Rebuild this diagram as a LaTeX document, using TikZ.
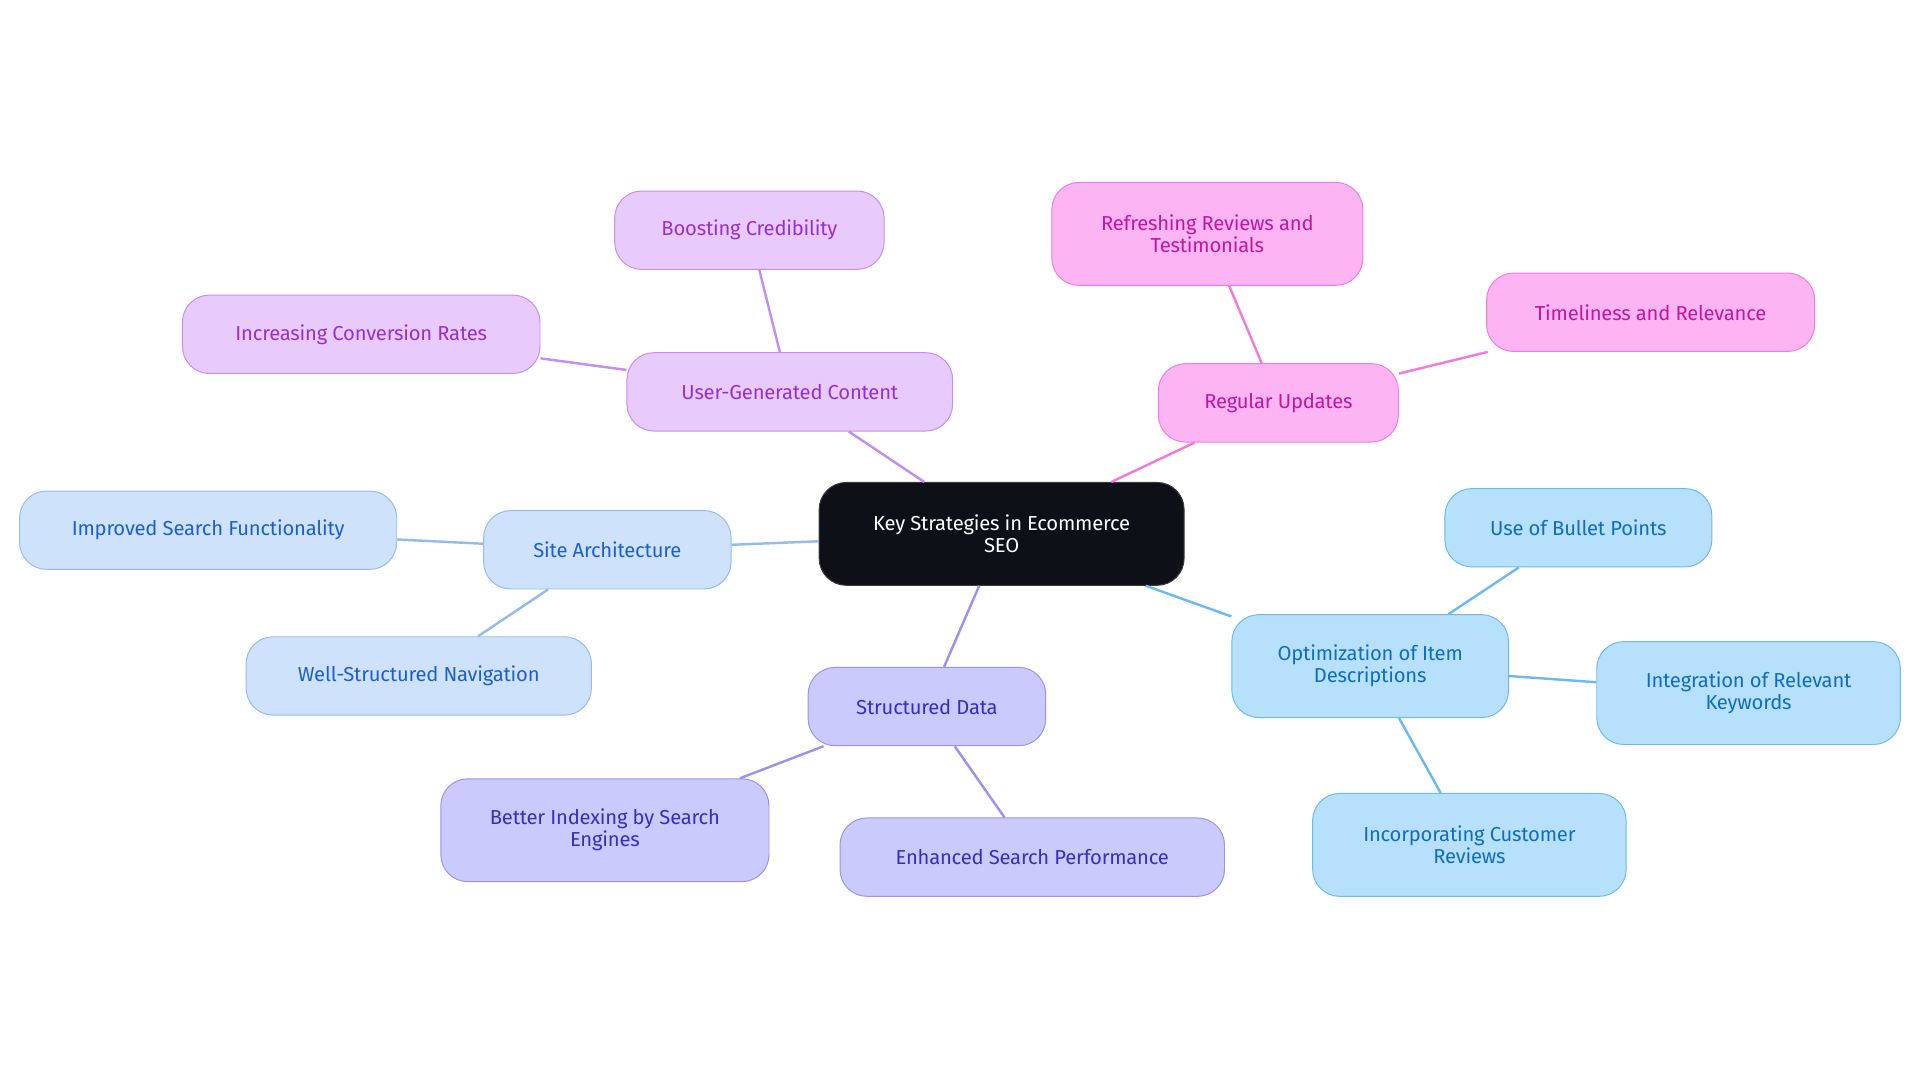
\documentclass[tikz,border=0pt]{standalone}
\usepackage{fontspec}
\setmainfont{Fira Sans}
\begin{document}
\begin{tikzpicture}[x=1pt,y=-1pt,
 box/.style={rounded corners=22pt,minimum height=64pt,align=center,font=\fontsize{16.5}{18}\selectfont\addfontfeature{LetterSpace=-1}, line width=0.8pt, inner sep=2pt},
 ugc/.style={box,fill={rgb,255:red,232;green,202;blue,252},draw={rgb,255:red,198;green,142;blue,240},text={rgb,255:red,150;green,48;blue,210}},
 reg/.style={box,fill={rgb,255:red,253;green,180;blue,243},draw={rgb,255:red,242;green,124;blue,222},text={rgb,255:red,196;green,22;blue,160}},
 site/.style={box,fill={rgb,255:red,206;green,226;blue,251},draw={rgb,255:red,148;green,188;blue,240},text={rgb,255:red,28;green,96;blue,208}},
 sd/.style={box,fill={rgb,255:red,202;green,202;blue,252},draw={rgb,255:red,156;green,146;blue,240},text={rgb,255:red,58;green,46;blue,190}},
 opt/.style={box,fill={rgb,255:red,182;green,224;blue,252},draw={rgb,255:red,108;green,186;blue,240},text={rgb,255:red,16;green,110;blue,192}},
 le/.style={line width=2pt}]
\useasboundingbox (0,0) rectangle (1568,884);
\node[box,fill={rgb,255:red,13;green,17;blue,23},draw={rgb,255:red,60;green,60;blue,60},text=white,minimum width=298pt,minimum height=84pt] (c) at (818,436) {Key Strategies in Ecommerce\\SEO};
\node[ugc,minimum width=266pt] (u) at (645,320) {User-Generated Content};
\node[ugc,minimum width=220pt] (u1) at (612,188) {Boosting Credibility};
\node[ugc,minimum width=292pt] (u2) at (295,273) {Increasing Conversion Rates};
\node[reg,minimum width=196pt] (r) at (1044,329) {Regular Updates};
\node[reg,minimum width=254pt,minimum height=84pt] (r1) at (986,191) {Refreshing Reviews and\\Testimonials};
\node[reg,minimum width=268pt] (r2) at (1348,255) {Timeliness and Relevance};
\node[site,minimum width=202pt] (s) at (496,449) {Site Architecture};
\node[site,minimum width=308pt] (s1) at (170,433) {Improved Search Functionality};
\node[site,minimum width=282pt] (s2) at (342,552) {Well-Structured Navigation};
\node[sd,minimum width=194pt] (d) at (757,577) {Structured Data};
\node[sd,minimum width=268pt,minimum height=84pt] (d1) at (494,678) {Better Indexing by Search\\Engines};
\node[sd,minimum width=314pt] (d2) at (843,700) {Enhanced Search Performance};
\node[opt,minimum width=226pt,minimum height=84pt] (o) at (1119,544) {Optimization of Item\\Descriptions};
\node[opt,minimum width=218pt] (o1) at (1289,431) {Use of Bullet Points};
\node[opt,minimum width=248pt,minimum height=84pt] (o2) at (1428,566) {Integration of Relevant\\Keywords};
\node[opt,minimum width=256pt,minimum height=84pt] (o3) at (1200,690) {Incorporating Customer\\Reviews};
\begin{scope}[on background layer/.style={}]
\end{scope}
\draw[le,draw={rgb,255:red,198;green,142;blue,240}] (c) -- (u) (u) -- (u1) (u) -- (u2);
\draw[le,draw={rgb,255:red,242;green,124;blue,222}] (c) -- (r) (r) -- (r1) (r) -- (r2);
\draw[le,draw={rgb,255:red,148;green,188;blue,240}] (c) -- (s) (s) -- (s1) (s) -- (s2);
\draw[le,draw={rgb,255:red,156;green,146;blue,240}] (c) -- (d) (d) -- (d1) (d) -- (d2);
\draw[le,draw={rgb,255:red,108;green,186;blue,240}] (c) -- (o) (o) -- (o1) (o) -- (o2) (o) -- (o3);
\end{tikzpicture}
\end{document}
